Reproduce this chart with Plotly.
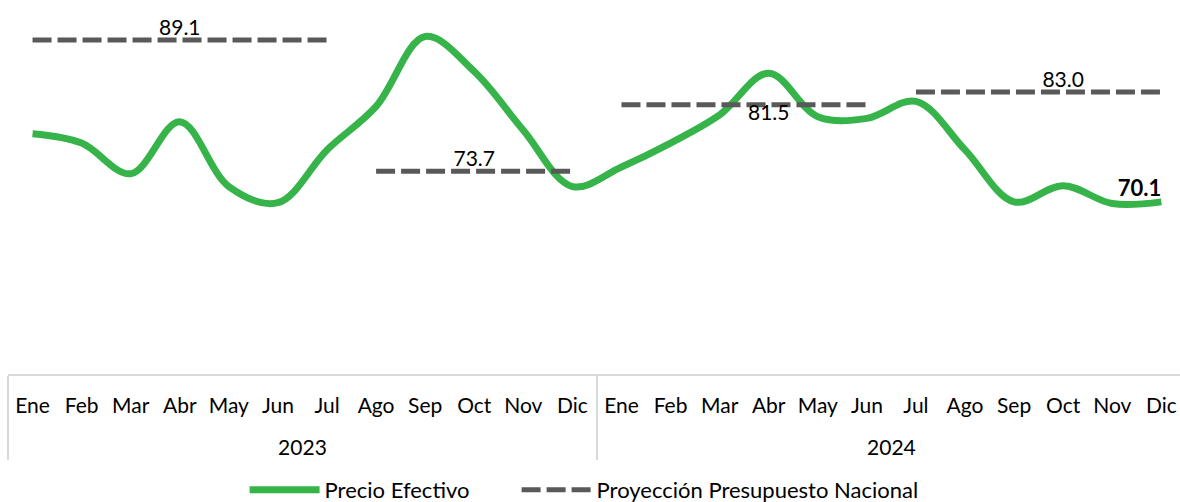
import plotly.graph_objects as go

years = ["2023"] * 12 + ["2024"] * 12
months = ["Ene", "Feb", "Mar", "Abr", "May", "Jun", "Jul", "Ago", "Sep", "Oct", "Nov", "Dic"] * 2

precio = [78.1, 77.0, 73.4, 79.5, 71.9, 70.0, 76.2, 81.3, 89.5, 85.4, 78.5, 71.9,
          74.2, 77.0, 80.3, 85.2, 80.1, 79.9, 81.9, 76.2, 70.1, 72.0, 69.9, 70.1]

# Budget projection segments: value, first index, last index, label index, label position
proy_vals = [89.1, 73.7, 81.5, 83.0]
proy_start = [0, 7, 12, 18]
proy_end = [6, 11, 17, 23]
proy_label_idx = [3, 9, 15, 21]
proy_label_pos = ["top center", "top center", "bottom center", "top center"]

FONT = "Lato"
GREEN = "#36B44A"
GRAY = "#595959"

# year level gets an empty first line so it sits lower, as in the reference
year_lbl = [f"<br>{y}" for y in years]

fig = go.Figure()

fig.add_trace(go.Scatter(
    x=[year_lbl, months], y=precio,
    mode="lines+text",
    name="Precio Efectivo",
    legend="legend",
    line=dict(color=GREEN, width=7, shape="spline", smoothing=1.0),
    text=[""] * (len(precio) - 1) + [f"<b>{precio[-1]:.1f}</b>"],
    textposition="top left",
    textfont=dict(family=FONT, size=22, color="#000000"),
    cliponaxis=False,
))

for k, (v, s, e, li, lp) in enumerate(zip(proy_vals, proy_start, proy_end, proy_label_idx, proy_label_pos)):
    xs = [year_lbl[s:e + 1], months[s:e + 1]]
    txt = [f"{v:.1f}" if (s + i) == li else "" for i in range(e - s + 1)]
    fig.add_trace(go.Scatter(
        x=xs, y=[v] * (e - s + 1),
        mode="lines+text",
        name="Proyección Presupuesto Nacional",
        legend="legend2",
        legendgroup="proy",
        showlegend=(k == 0),
        line=dict(color=GRAY, width=5, dash="19px,6px"),
        text=txt,
        textposition=lp,
        textfont=dict(family=FONT, size=21, color="#000000"),
        cliponaxis=False,
    ))

W, H = 1180, 502
L, B = 8, 128
PW, PH = W - L, H - B
leg_common = dict(orientation="h", xanchor="left", y=-116 / PH, yanchor="middle",
                  font=dict(family=FONT, size=22, color="#000000"), itemwidth=70,
                  bgcolor="rgba(0,0,0,0)")

fig.update_layout(
    width=W, height=H,
    margin=dict(l=L, r=0, t=0, b=B, autoexpand=False),
    paper_bgcolor="white", plot_bgcolor="white",
    font=dict(family=FONT, size=21, color="#000000"),
    showlegend=True,
    legend=dict(x=(250 - 5.4 - L) / PW, **leg_common),
    legend2=dict(x=(522 - 5.4 - L) / PW, **leg_common),
)
fig.update_xaxes(
    type="multicategory",
    range=[-0.5, 23.38],
    automargin=False,
    tickangle=0,
    ticklabelstandoff=12,
    showline=True, linecolor="#d9d9d9", linewidth=1.5,
    showgrid=False, ticks="",
    showdividers=True, dividercolor="#d9d9d9", dividerwidth=1.5,
    tickfont=dict(family=FONT, size=21, color="#000000"),
)
fig.update_yaxes(range=[49.9, 93.79], visible=False, showgrid=False, zeroline=False)

fig.write_html(
    "out.html",
    config={"displayModeBar": False},
    post_script="document.body.style.margin='0';document.body.style.overflow='hidden';",
)
